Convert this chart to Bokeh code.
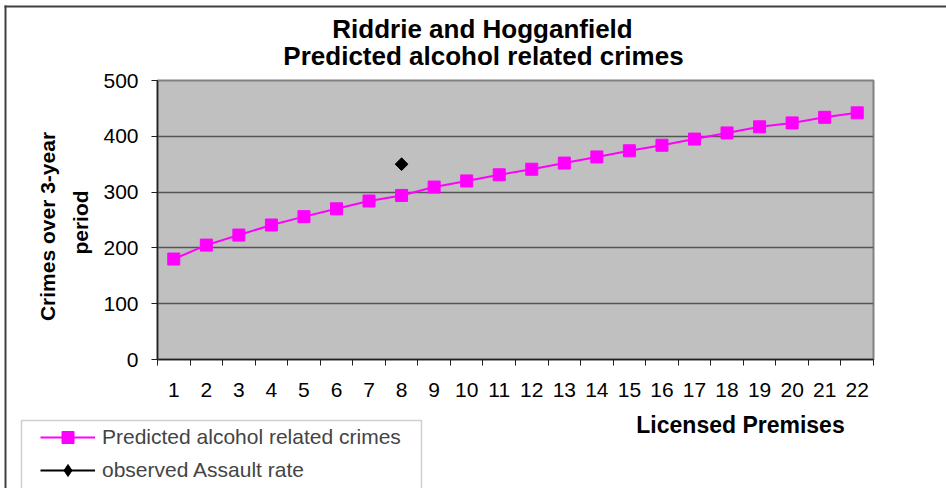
import math
from bokeh.plotting import figure
from bokeh.models import FixedTicker, Range1d, Legend, LegendItem, Label, BoxAnnotation
from bokeh.layouts import column
from bokeh.embed import file_html
from bokeh.resources import INLINE

# ---- data ----
premises = [1, 2, 3, 4, 5, 6, 7, 8, 9, 10, 11, 12, 13, 14, 15, 16, 17, 18, 19, 20, 21, 22]
predicted = [180, 205, 223, 241, 256, 270, 284, 294, 309, 320, 331, 341,
             352, 363, 374, 384, 395, 406, 417, 424, 434, 442]
observed_x = [8]
observed_y = [350]
y_ticks = [0, 100, 200, 300, 400, 500]
title_lines = ["Riddrie and Hogganfield", "Predicted alcohol related crimes"]
y_title_lines = ["Crimes over 3-year", "period"]
x_title = "Licensed Premises"
series_names = ["Predicted alcohol related crimes", "observed Assault rate"]

FONT = "Liberation Sans"
W, H = 946, 488
MAGENTA = "#FF00FF"
NAN = float("nan")

# ---------------- main chart (axes, grid, data) ----------------
p = figure(width=W, height=H, output_backend="svg", toolbar_location=None, title=None,
           x_range=Range1d(0.5, 22.5), y_range=Range1d(0, 500),
           min_border_left=157, min_border_right=73, min_border_top=80, min_border_bottom=129)
p.background_fill_color = "#C0C0C0"
p.border_fill_color = "white"
p.outline_line_color = "#808080"
p.outline_line_width = 2

p.xgrid.visible = False
p.ygrid.ticker = FixedTicker(ticks=[100, 200, 300, 400])
p.ygrid.grid_line_color = "#555555"
p.ygrid.grid_line_width = 1.5

ya = p.yaxis[0]
ya.ticker = FixedTicker(ticks=y_ticks)
ya.axis_line_color = "#202020"
ya.axis_line_width = 1.5
ya.major_tick_line_color = "#202020"
ya.major_tick_out = 6
ya.major_tick_in = 0
ya.minor_tick_line_color = None
ya.major_label_standoff = 13
ya.major_label_text_font = FONT
ya.major_label_text_font_size = "21px"
ya.major_label_text_color = "black"

xa = p.xaxis[0]
xa.ticker = FixedTicker(ticks=premises, minor_ticks=[k + 0.5 for k in range(0, 23)])
xa.axis_line_color = "#202020"
xa.axis_line_width = 1.5
xa.major_tick_out = 0
xa.major_tick_in = 0
xa.minor_tick_out = 6
xa.minor_tick_in = 0
xa.minor_tick_line_color = "#202020"
xa.major_label_standoff = 17
xa.major_label_text_font = FONT
xa.major_label_text_font_size = "21px"
xa.major_label_text_color = "black"

p.line(premises, predicted, line_color=MAGENTA, line_width=2)
p.scatter(premises, predicted, marker="square", size=12, fill_color=MAGENTA, line_color=MAGENTA)
p.scatter(observed_x, observed_y, marker="square", size=9, angle=math.pi / 4,
          fill_color="black", line_color="black")

# ---------------- transparent overlay: chart texts, border, legend ----------------
o = figure(width=W, height=H, output_backend="svg", toolbar_location=None, title=None,
           x_range=Range1d(0, W), y_range=Range1d(H, 0), min_border=0,
           x_axis_location=None, y_axis_location=None)
for fig in (p, o):
    try:
        fig.frame_align = False
    except AttributeError:
        pass
o.margin = (-H, 0, 0, 0)
o.grid.visible = False
o.outline_line_color = None
o.background_fill_alpha = 0
o.border_fill_alpha = 0

# chart border (top and left edges) and legend frame
o.add_layout(BoxAnnotation(left=4, right=6, top=5, bottom=H, fill_color="#404040",
                           fill_alpha=1, line_color=None))
o.add_layout(BoxAnnotation(left=4, right=W, top=5, bottom=7, fill_color="#404040",
                           fill_alpha=1, line_color=None))
o.add_layout(BoxAnnotation(left=21, right=421, top=420, bottom=H + 20, fill_alpha=0,
                           line_color="#606060", line_width=1.5))

for txt, x, y in zip(title_lines, [482, 483], [28, 55.5]):
    o.add_layout(Label(x=x, y=y, text=txt, text_align="center", text_baseline="middle",
                       text_font=FONT, text_font_style="bold", text_font_size="26px",
                       text_color="black"))
for txt, x, y in zip(y_title_lines, [47, 80], [226, 222]):
    o.add_layout(Label(x=x, y=y, text=txt, angle=math.pi / 2, text_align="center",
                       text_baseline="middle", text_font=FONT, text_font_style="bold",
                       text_font_size="21px", text_color="black"))
o.add_layout(Label(x=740, y=424.5, text=x_title, text_align="center", text_baseline="middle",
                   text_font=FONT, text_font_style="bold", text_font_size="23px",
                   text_color="black"))

# legend swatches (style only, nothing plotted)
l1 = o.line([NAN], [NAN], line_color=MAGENTA, line_width=2)
m1 = o.scatter([NAN], [NAN], marker="square", size=12, fill_color=MAGENTA, line_color=MAGENTA)
l2 = o.line([NAN], [NAN], line_color="black", line_width=2)
m2 = o.scatter([NAN], [NAN], marker="diamond", size=17, fill_color="black", line_color="black")
legend = Legend(items=[LegendItem(label=series_names[0], renderers=[l1, m1]),
                       LegendItem(label=series_names[1], renderers=[l2, m2])],
                location=(40, 3), padding=0, margin=0, spacing=3,
                glyph_width=55, glyph_height=30, label_standoff=7,
                label_text_font=FONT, label_text_font_size="21px",
                border_line_color=None, background_fill_alpha=0)
o.add_layout(legend, "center")

open("out.html", "w").write(file_html(column(p, o), INLINE))
